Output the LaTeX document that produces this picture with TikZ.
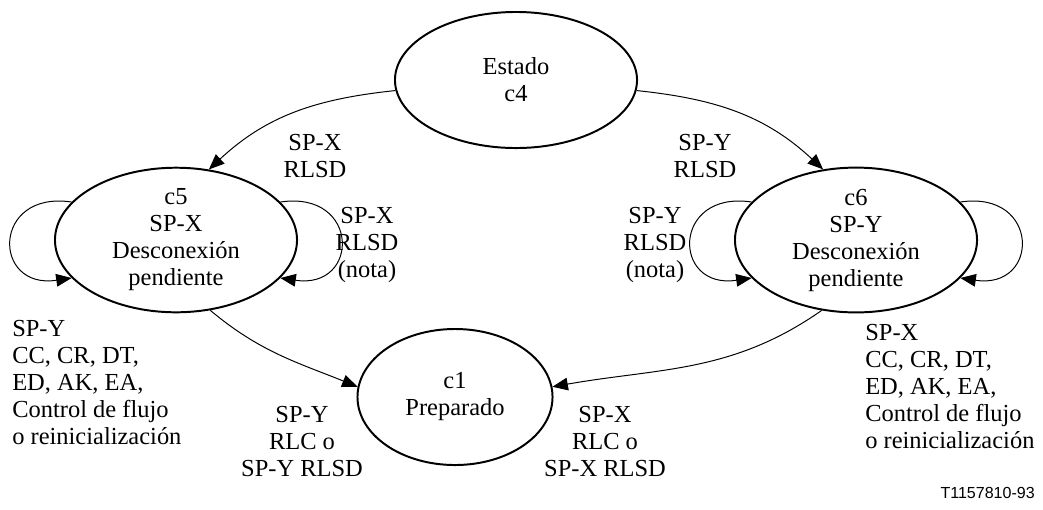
\documentclass[tikz,border=0pt]{standalone}
\usepackage{fontspec}
\setmainfont{Liberation Serif}
\newfontfamily\codefont{Liberation Sans}
\usetikzlibrary{shapes.geometric,arrows.meta}

\tikzset{
  estado/.style={ellipse, draw, line width=1.4pt, inner sep=0pt,
    minimum width=6.05cm, minimum height=3.4cm, align=center},
  etiq/.style={align=center, inner sep=0pt},
  trans/.style={line width=0.7pt, -{Triangle[length=11pt,width=9pt]}}
}

\begin{document}
\begin{tikzpicture}[x=0.025cm, y=-0.025cm, font=\fontsize{17.4}{19.2}\selectfont]
    \useasboundingbox (0,0) rectangle (1043,509);
    % estados
    \node[estado] (c4) at (516,80) {Estado\\c4};
    \node[estado] (c5) at (176,240) {c5\\SP-X\\Desconexión\\pendiente};
    \node[estado] (c6) at (856,240) {c6\\SP-Y\\Desconexión\\pendiente};
    \node[estado, minimum width=4.875cm] (c1) at (455,397) {c1\\Preparado};
    % transiciones
    \draw[trans] (c4.185) to[out=186, in=43] (c5.65);
    \draw[trans] (c4.-5) to[out=-6, in=137] (c6.115);
    \draw[trans] (c5.-64) to[out=-40, in=158] (c1.174);
    \draw[trans] (c6.-116) to[out=215, in=10] (c1.6);
    % bucles
    \draw[trans] (c5.160) .. controls +(-80,-12) and +(-80,12) .. (c5.200);
    \draw[trans] (c5.20) .. controls +(80,-12) and +(80,12) .. (c5.-20);
    \draw[trans] (c6.160) .. controls +(-80,-12) and +(-80,12) .. (c6.200);
    \draw[trans] (c6.20) .. controls +(80,-12) and +(80,12) .. (c6.-20);
    % etiquetas
    \node[etiq] (l45) at (315,156) {SP-X\\RLSD};
    \node[etiq] (l46) at (705,156) {SP-Y\\RLSD};
    \node[etiq] (l55) at (367,245) {SP-X\\RLSD\\(nota)};
    \node[etiq] (l66) at (655,245) {SP-Y\\RLSD\\(nota)};
    \node[etiq] (l51) at (302,442) {SP-Y\\RLC o\\SP-Y RLSD};
    \node[etiq] (l61) at (605,442) {SP-X\\RLC o\\SP-X RLSD};
    \node[etiq, align=left, anchor=west] (l5) at (12,383) {SP-Y\\CC, CR, DT,\\ED, AK, EA,\\Control de flujo\\o reinicialización};
    \node[etiq, align=left, anchor=west] (l6) at (865,387) {SP-X\\CC, CR, DT,\\ED, AK, EA,\\Control de flujo\\o reinicialización};
    \node[etiq, anchor=east, font=\codefont\fontsize{11.4}{13}\selectfont] (ref) at (1035,493) {T1157810-93};
\end{tikzpicture}
\end{document}
